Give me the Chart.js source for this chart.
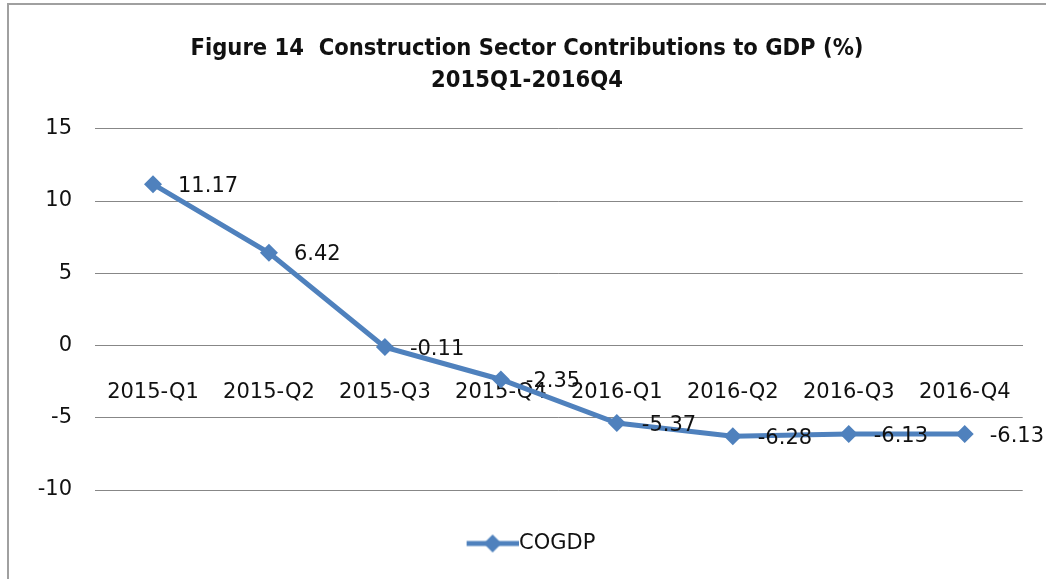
<!DOCTYPE html>
<html lang="en">
<head>
<meta charset="UTF-8">
<title>Figure 14 Construction Sector Contributions to GDP (%)</title>
<script src="https://cdn.jsdelivr.net/npm/chart.js"></script>
<style>
  html, body { margin: 0; padding: 0; background: #fff; overflow: hidden; }
  #wrap { position: relative; width: 1046px; height: 579px; }
  #frame { position: absolute; left: 7px; top: 3px; width: 1100px; height: 700px; border: 2px solid #a0a0a0; pointer-events: none; }
</style>
</head>
<body>
<div id="wrap">
  <canvas id="grafico" width="1046" height="579"></canvas>
  <div id="frame"></div>
</div>
<script>
  const quarters = ["2015-Q1", "2015-Q2", "2015-Q3", "2015-Q4", "2016-Q1", "2016-Q2", "2016-Q3", "2016-Q4"];
  const cogdp = [11.17, 6.42, -0.11, -2.35, -5.37, -6.28, -6.13, -6.13];
  const yTicks = [15, 10, 5, 0, -5, -10];
  const titleLines = ["Figure 14  Construction Sector Contributions to GDP (%)", "2015Q1-2016Q4"];

  const azul = "#4f81bd";
  const grade = "#878787";

  Chart.defaults.font.family = "'DejaVu Sans', sans-serif";
  Chart.defaults.font.size = 21;
  Chart.defaults.color = "#111";

  // legend icon: line with diamond
  const icone = document.createElement("canvas");
  icone.width = 70; icone.height = 22;
  (() => {
    const c = icone.getContext("2d");
    c.strokeStyle = azul; c.fillStyle = azul; c.lineWidth = 5;
    c.beginPath(); c.moveTo(18, 11); c.lineTo(70, 11); c.stroke();
    c.beginPath(); c.moveTo(44, 2); c.lineTo(53, 11); c.lineTo(44, 20); c.lineTo(35, 11); c.closePath(); c.fill();
  })();

  const rotulos = {
    id: "rotulos",
    afterDatasetsDraw(chart) {
      const ctx = chart.ctx;
      const meta = chart.getDatasetMeta(0);
      ctx.save();
      ctx.font = "21px 'DejaVu Sans', sans-serif";
      ctx.fillStyle = "#111";
      ctx.textBaseline = "middle";
      ctx.textAlign = "left";
      meta.data.forEach((pt, i) => {
        ctx.fillText(cogdp[i].toFixed(2), pt.x + 25, pt.y + 2);
      });
      ctx.restore();
    }
  };

  new Chart(document.getElementById("grafico"), {
    type: "line",
    data: {
      labels: quarters,
      datasets: [{
        label: "COGDP",
        data: cogdp,
        borderColor: azul,
        backgroundColor: azul,
        borderWidth: 5,
        pointStyle: "rectRot",
        pointRadius: 9,
        pointBorderWidth: 0,
        tension: 0
      }]
    },
    options: {
      responsive: false,
      animation: false,
      layout: { padding: { left: 31, right: 23, top: 0, bottom: 15 } },
      plugins: {
        title: {
          display: true,
          text: titleLines,
          color: "#111",
          font: { family: "'Liberation Sans Narrow', 'DejaVu Sans Condensed', sans-serif", size: 23.5, weight: "bold", lineHeight: 1.4 },
          padding: { top: 32, bottom: 31 }
        },
        legend: {
          position: "bottom",
          labels: {
            usePointStyle: true,
            pointStyle: icone,
            pointStyleWidth: 50,
            padding: 43,
            color: "#111",
            font: { size: 21 }
          }
        },
        tooltip: { enabled: false }
      },
      scales: {
        x: {
          type: "category",
          position: { y: 0 },
          offset: true,
          grid: { display: false, drawTicks: false },
          border: { display: true, color: grade, width: 1 },
          ticks: { padding: 34, maxRotation: 0, autoSkip: false, color: "#111" }
        },
        y: {
          min: -10,
          max: 15,
          afterBuildTicks: s => { s.ticks = yTicks.map(v => ({ value: v })); },
          afterFit: s => { s.width = 64; },
          grid: { color: grade, lineWidth: 1, drawTicks: false },
          border: { display: false },
          ticks: { padding: 23, color: "#111" }
        }
      }
    },
    plugins: [rotulos]
  });
</script>
</body>
</html>
